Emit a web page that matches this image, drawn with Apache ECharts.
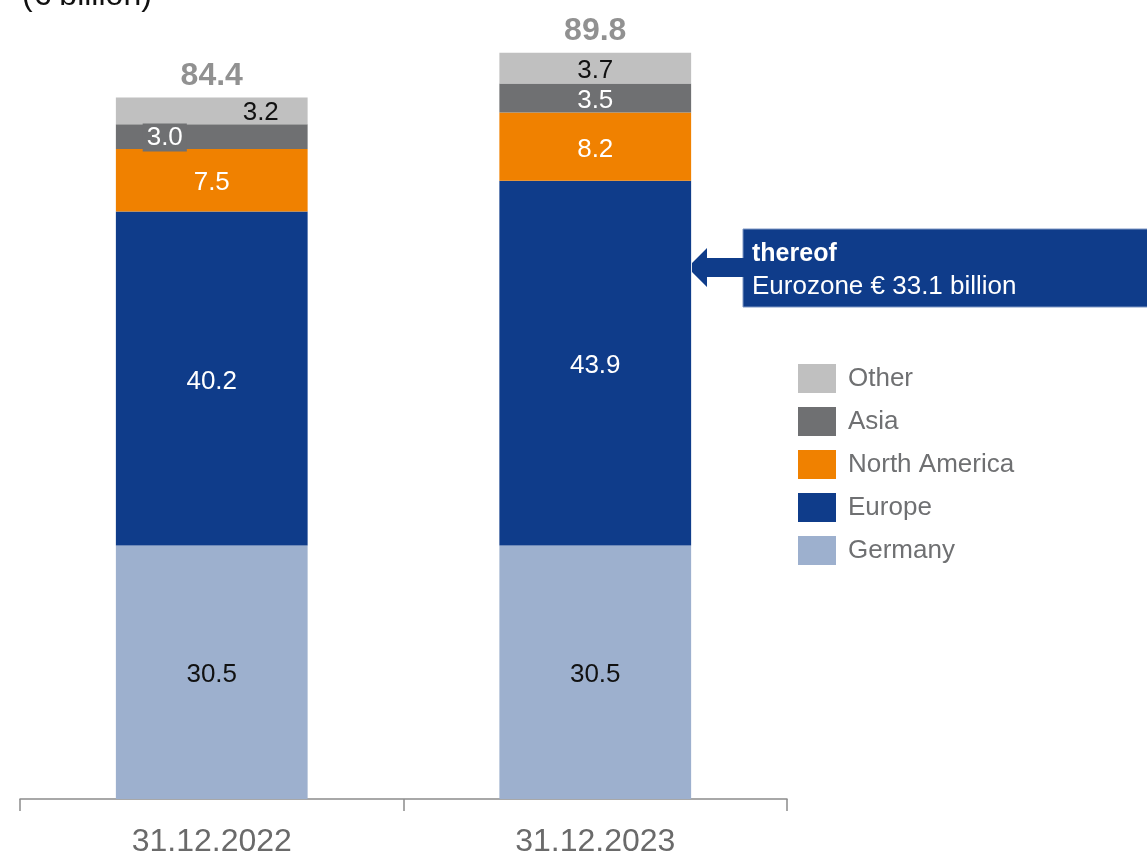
<!DOCTYPE html>
<html>
<head>
<meta charset="utf-8">
<script src="https://cdn.jsdelivr.net/npm/echarts@6/dist/echarts.min.js"></script>
<style>
  html, body { margin: 0; padding: 0; background: #fff; }
  #chart { width: 1147px; height: 856px; }
</style>
</head>
<body>
<div id="chart"></div>
<script>
// Regional breakdown (€ billion) at year end
const categories = ['31.12.2022', '31.12.2023'];
const germany = [30.5, 30.5];
const europe = [40.2, 43.9];
const northAmerica = [7.5, 8.2];
const asia = [3.0, 3.5];
const other = [3.2, 3.7];
const totals = [84.4, 89.8];
const legendOrder = ['Other', 'Asia', 'North America', 'Europe', 'Germany'];

const FONT = '"Liberation Sans", Arial, sans-serif';
const colors = {
  Germany: '#9DB0CE',
  Europe: '#0F3C8A',
  'North America': '#F08100',
  Asia: '#6F7072',
  Other: '#C0C0C0'
};

function seg(name, values, labelColor, perItem) {
  return {
    name: name,
    type: 'bar',
    stack: 'total',
    barWidth: '50%',
    itemStyle: { color: colors[name] },
    label: {
      show: true,
      position: 'inside',
      offset: [0, 3],
      color: labelColor,
      fontFamily: FONT,
      fontSize: 26,
      formatter: p => p.value.toFixed(1)
    },
    data: values.map((v, i) => {
      const item = { value: v };
      if (perItem && perItem[i]) item.label = perItem[i];
      return item;
    })
  };
}

const chart = echarts.init(document.getElementById('chart'), null, { renderer: 'canvas' });

chart.setOption({
  animation: false,
  backgroundColor: '#ffffff',
  grid: {
    left: 20, right: 360, top: 51, bottom: 57,
    containLabel: false,
    outerBoundsMode: 'none'
  },
  legend: {
    data: legendOrder,
    orient: 'vertical',
    left: 798,
    top: 364,
    padding: 0,
    itemWidth: 38,
    itemHeight: 29,
    itemGap: 14,
    icon: 'rect',
    textStyle: { color: '#6F7072', fontSize: 26, fontFamily: FONT, padding: [3, 0, 0, 7] },
    selectedMode: false
  },
  xAxis: {
    type: 'category',
    data: categories,
    boundaryGap: true,
    axisLine: { show: true, lineStyle: { color: '#8C8C8C', width: 1.5 } },
    axisTick: { show: true, length: 12, alignWithLabel: false, lineStyle: { color: '#8C8C8C', width: 1.5 } },
    axisLabel: { color: '#6A6A6A', fontSize: 32, fontFamily: FONT, margin: 27 }
  },
  yAxis: {
    type: 'value',
    min: 0,
    max: 90,
    show: false,
    splitLine: { show: false }
  },
  series: [
    seg('Germany', germany, '#111111'),
    seg('Europe', europe, '#ffffff'),
    seg('North America', northAmerica, '#ffffff'),
    seg('Asia', asia, '#ffffff', [
      { offset: [-47, 1], backgroundColor: '#6F7072', padding: [2, 4, 0, 4] },
      null
    ]),
    seg('Other', other, '#111111', [
      { offset: [49, 2] },
      null
    ]),
    {
      name: 'Total',
      type: 'scatter',
      symbolSize: 0,
      silent: true,
      label: {
        show: true,
        position: 'top',
        distance: 5,
        color: '#757575',
        fontFamily: FONT,
        fontSize: 32,
        fontWeight: 'bold',
        formatter: p => p.value.toFixed(1)
      },
      data: totals
    }
  ],
  graphic: [
    {
      type: 'text',
      left: 22,
      top: -20,
      style: {
        text: '(€ billion)',
        fill: '#111111',
        font: '32px ' + FONT
      }
    },
    {
      // callout box
      type: 'rect',
      shape: { x: 743, y: 229, width: 410, height: 78 },
      style: { fill: '#0F3C8A', stroke: '#7F97C4', lineWidth: 1 }
    },
    {
      // arrow pointing to the Europe segment
      type: 'polygon',
      shape: {
        points: [
          [692, 263], [707, 248], [707, 258], [744, 258],
          [744, 277], [707, 277], [707, 287], [692, 272]
        ]
      },
      style: { fill: '#0F3C8A' }
    },
    {
      type: 'text',
      left: 752,
      top: 242,
      style: { text: 'thereof', fill: '#ffffff', font: 'bold 25px ' + FONT }
    },
    {
      type: 'text',
      left: 752,
      top: 274,
      style: { text: 'Eurozone € 33.1 billion', fill: '#ffffff', font: '26px ' + FONT }
    }
  ]
});
</script>
</body>
</html>
